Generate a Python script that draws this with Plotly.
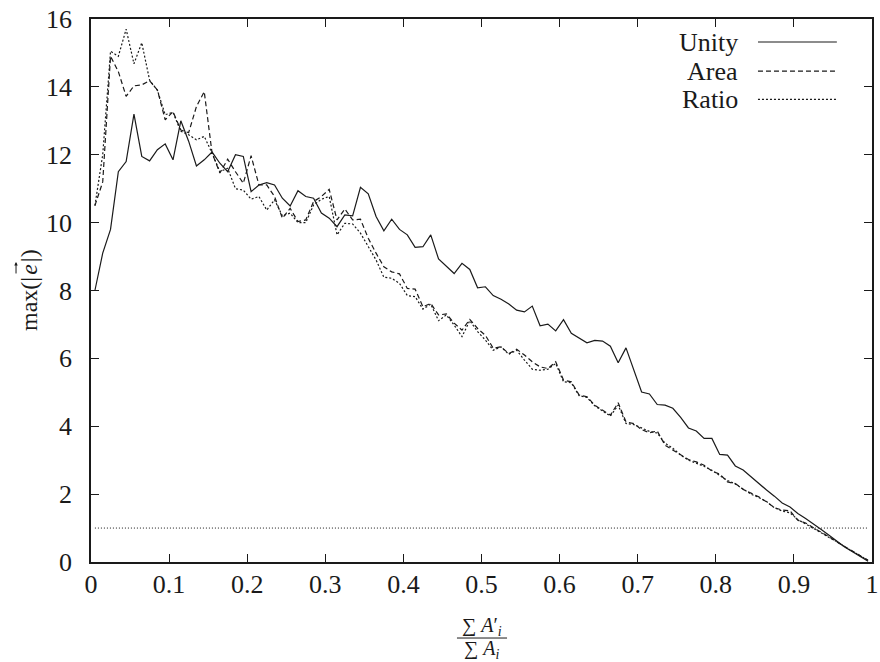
import plotly.graph_objects as go

# x positions: one sample every 0.01 of sum(A')/sum(A)
x_vals = [round((k + 0.5) / 100, 3) for k in range(100)]

unity = [8.0, 9.1, 9.8, 11.5, 11.8, 13.2, 11.95, 11.82, 12.15, 12.32,
         11.85, 13.0, 12.4, 11.67, 11.85, 12.08, 11.75, 11.5, 12.0, 11.95,
         10.91, 11.11, 11.18, 11.11, 10.72, 10.49, 10.94, 10.77, 10.72, 10.28,
         10.13, 9.88, 10.23, 10.2, 11.04, 10.85, 10.18, 9.76, 10.1, 9.8,
         9.64, 9.27, 9.29, 9.64, 8.93, 8.72, 8.5, 8.8, 8.62, 8.08,
         8.11, 7.85, 7.74, 7.6, 7.42, 7.37, 7.54, 6.96, 7.01, 6.81,
         7.14, 6.74, 6.59, 6.46, 6.53, 6.51, 6.36, 5.87, 6.31, 5.65,
         5.01, 4.95, 4.64, 4.62, 4.53, 4.26, 3.95, 3.86, 3.64, 3.64,
         3.17, 3.15, 2.83, 2.71, 2.51, 2.31, 2.12, 1.94, 1.74, 1.62,
         1.43, 1.28, 1.13, 0.96, 0.79, 0.62, 0.44, 0.30, 0.15, 0.02]

area = [10.5, 11.2, 14.9, 14.45, 13.72, 14.03, 14.06, 14.18, 13.91, 13.03,
        13.27, 12.73, 12.65, 13.42, 13.86, 12.05, 11.46, 11.87, 11.5, 11.16,
        11.97, 11.11, 11.11, 10.77, 10.13, 10.42, 10.03, 10.08, 10.62, 10.77,
        10.98, 10.08, 10.4, 10.08, 10.1, 9.54, 9.1, 8.7, 8.55, 8.49,
        8.06, 8.04, 7.52, 7.62, 7.28, 7.31, 7.04, 6.83, 7.15, 6.88,
        6.68, 6.3, 6.34, 6.14, 6.27, 6.1, 5.9, 5.75, 5.7, 5.9,
        5.36, 5.31, 4.92, 4.87, 4.62, 4.47, 4.33, 4.69, 4.13, 4.08,
        3.9, 3.81, 3.86, 3.44, 3.3, 3.15, 3.02, 2.95, 2.85, 2.68,
        2.59, 2.36, 2.31, 2.14, 2.02, 1.92, 1.77, 1.6, 1.53, 1.51,
        1.23, 1.15, 1.01, 0.88, 0.74, 0.59, 0.46, 0.32, 0.2, 0.05]

ratio = [10.5, 12.0, 15.05, 14.9, 15.7, 14.68, 15.3, 14.2, 13.9, 13.18,
         13.25, 12.69, 12.59, 12.44, 12.54, 12.05, 11.5, 11.6, 11.0, 10.96,
         10.69, 10.77, 10.37, 10.67, 10.2, 10.28, 10.0, 10.0, 10.52, 10.69,
         10.77, 9.64, 9.98, 9.96, 9.69, 9.29, 8.9, 8.39, 8.36, 8.21,
         7.85, 7.82, 7.45, 7.6, 7.11, 7.28, 6.98, 6.64, 7.11, 6.79,
         6.54, 6.24, 6.34, 6.12, 6.24, 5.95, 5.68, 5.65, 5.68, 5.85,
         5.31, 5.28, 4.9, 4.85, 4.6, 4.45, 4.3, 4.62, 4.08, 4.05,
         3.95, 3.85, 3.8, 3.5, 3.35, 3.15, 3.0, 2.92, 2.82, 2.7,
         2.55, 2.4, 2.3, 2.16, 2.0, 1.9, 1.78, 1.6, 1.5, 1.45,
         1.25, 1.12, 1.0, 0.86, 0.72, 0.6, 0.45, 0.32, 0.18, 0.05]

threshold = 1.0
series_names = ["Unity", "Area", "Ratio"]
x_ticks = [0, 0.1, 0.2, 0.3, 0.4, 0.5, 0.6, 0.7, 0.8, 0.9, 1]
y_ticks = [0, 2, 4, 6, 8, 10, 12, 14, 16]

FONT = "Liberation Serif"
INK = "#1a1a1a"
dashes = ["solid", "5px,3px", "2px,2px"]

fig = go.Figure()
for name, ys, d in zip(series_names, [unity, area, ratio], dashes):
    fig.add_trace(go.Scatter(x=x_vals, y=ys, mode="lines", name=name,
                             line=dict(color=INK, width=1.2, dash=d),
                             showlegend=False))

fig.add_trace(go.Scatter(x=[x_vals[0], x_vals[-1]], y=[threshold, threshold],
                         mode="lines", showlegend=False,
                         line=dict(color=INK, width=1, dash="1px,2px")))

# gnuplot-style key: right-aligned text, sample line to its right
key_y = [0.9576, 0.904, 0.852]
for name, yk, d in zip(series_names, key_y, dashes):
    fig.add_annotation(x=0.831, y=yk, xref="paper", yref="paper",
                       text=name, showarrow=False, xanchor="right", yanchor="middle",
                       font=dict(family=FONT, size=26, color=INK))
    fig.add_shape(type="line", xref="paper", yref="paper",
                  x0=0.854, x1=0.955, y0=yk, y1=yk,
                  line=dict(color=INK, width=1.2, dash=d))

# x-axis title as a fraction
fig.add_annotation(x=0.5, y=-0.118, xref="paper", yref="paper",
                   text="∑ <i>A</i>′<sub><i>i</i></sub>", showarrow=False,
                   xanchor="center", yanchor="middle",
                   font=dict(family=FONT, size=20, color=INK))
fig.add_shape(type="line", xref="paper", yref="paper",
              x0=0.4686, x1=0.5327, y0=-0.14, y1=-0.14,
              line=dict(color=INK, width=1))
fig.add_annotation(x=0.5, y=-0.162, xref="paper", yref="paper",
                   text="∑ <i>A</i><sub><i>i</i></sub>", showarrow=False,
                   xanchor="center", yanchor="middle",
                   font=dict(family=FONT, size=20, color=INK))

# y-axis title (rotated) with a vector arrow over e
fig.add_annotation(x=-0.0794, y=0.501, xref="paper", yref="paper",
                   text="max(|&#8202;<i>e</i>&#8202;|)", showarrow=False, textangle=-90,
                   xanchor="center", yanchor="middle",
                   font=dict(family=FONT, size=24, color=INK))
fig.add_annotation(x=-0.096, y=0.5525, xref="paper", yref="paper",
                   text="", showarrow=True, ax=0, ay=13,
                   arrowhead=2, arrowsize=0.7, arrowwidth=1, arrowcolor=INK)

axis_common = dict(showline=True, linecolor=INK, linewidth=1.5, mirror="ticks",
                   ticks="inside", ticklen=8, tickwidth=1, tickcolor=INK,
                   showgrid=False, zeroline=False, automargin=False,
                   tickfont=dict(family=FONT, size=26, color=INK))

fig.update_layout(
    width=880, height=662,
    margin=dict(l=91, r=8, t=19, b=100),
    paper_bgcolor="white", plot_bgcolor="white",
    font=dict(family=FONT, color=INK),
    xaxis=dict(range=[0, 1], tickvals=x_ticks, ticktext=[str(v) for v in x_ticks],
               ticklabelstandoff=-2, **axis_common),
    yaxis=dict(range=[0, 16], tickvals=y_ticks, ticklabelstandoff=12, **axis_common),
)

fig.write_html("out.html")
